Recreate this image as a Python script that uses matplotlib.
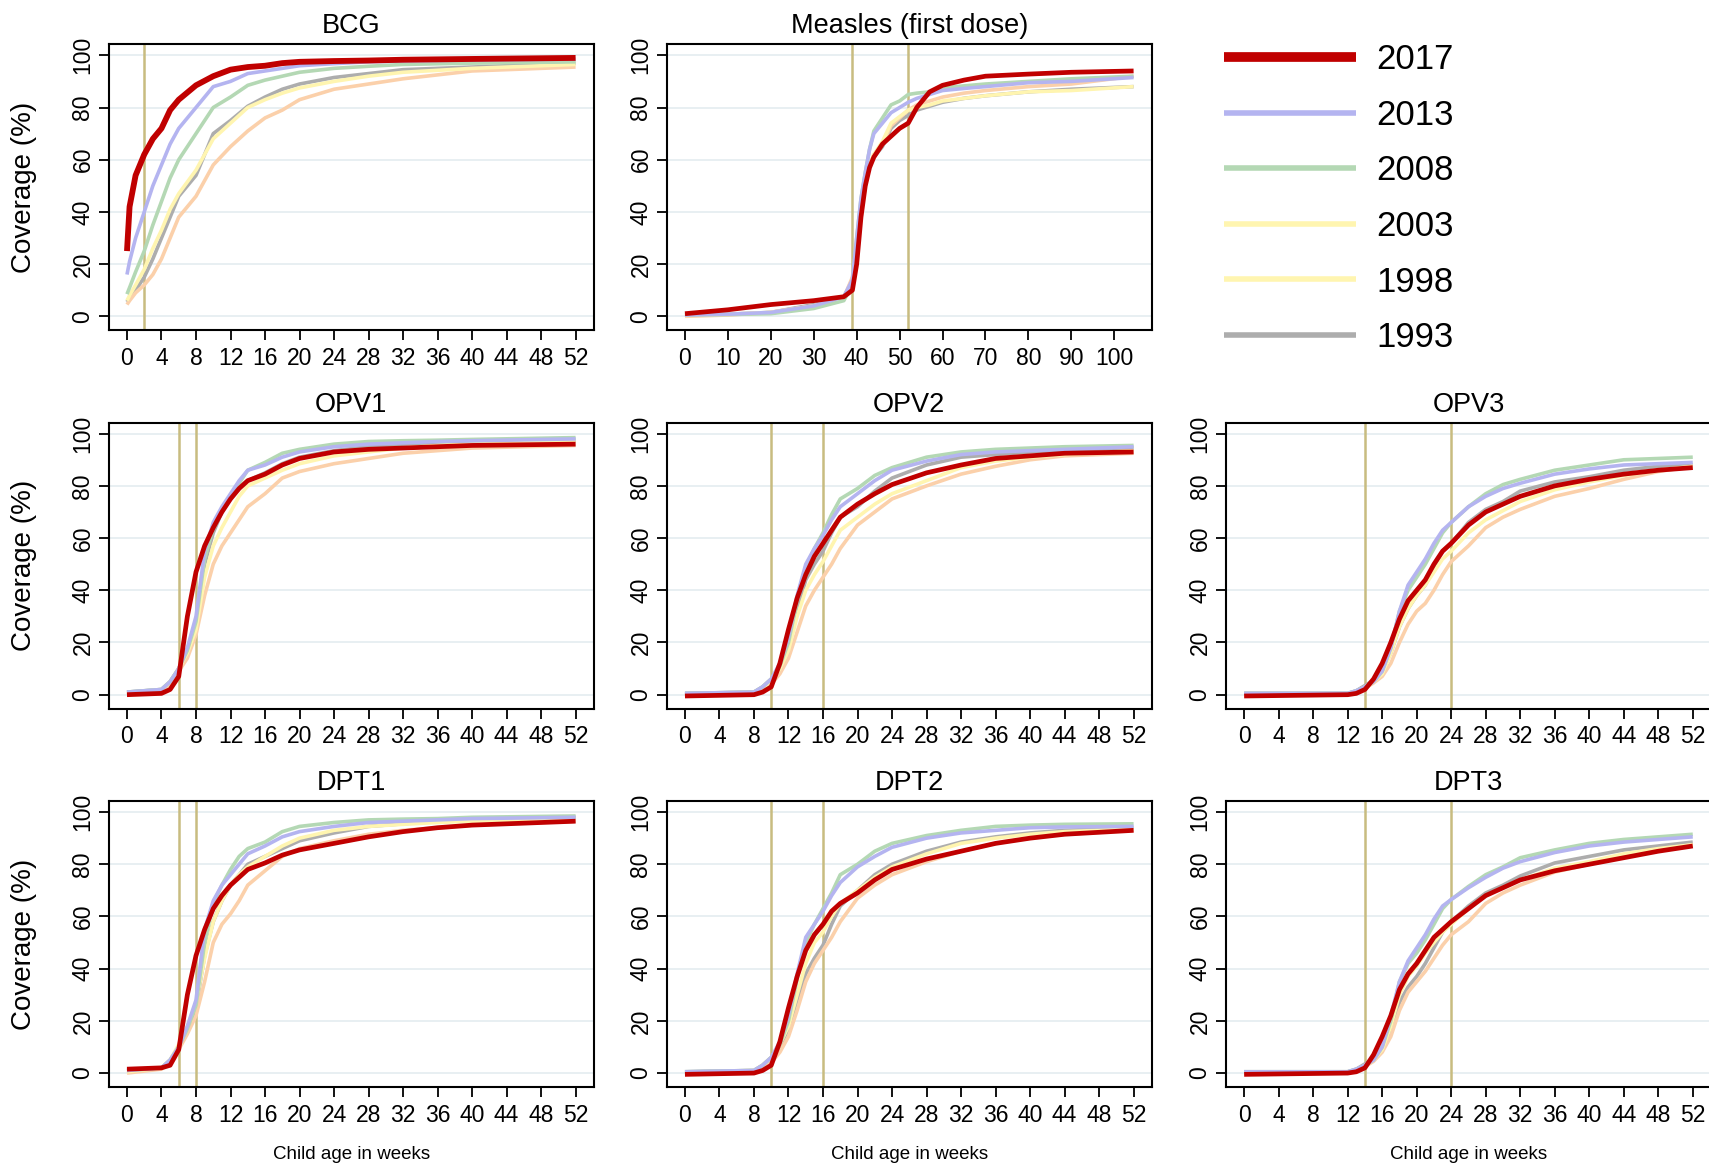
#!/usr/bin/env python3
"""Vaccination coverage by child age, survey rounds 1993-2017."""

import matplotlib
matplotlib.use('Agg')
import matplotlib.pyplot as plt
from matplotlib.lines import Line2D

plt.rcParams['font.family'] = ['Liberation Sans', 'DejaVu Sans']

YEARS = ['2017', '2013', '2008', '2003', '1998', '1993']
LINE_COLORS = {'2017': '#c00000', '2013': '#b4b4f0', '2008': '#b4d8b4',
               '2003': '#fff5b0', '1998': '#fbd0aa', '1993': '#adadad'}
LEGEND_COLORS = ['#c00000', '#b4b4f0', '#b4d8b4', '#fff5b0', '#fff5b0', '#adadad']

# ---- BCG ----
WEEKS_BCG = [0, 0.3, 1, 2, 3, 4, 5, 6, 8, 10, 12, 14, 16, 18, 20, 24, 28, 32, 40, 52]
BCG = {
    '2017': [25, 42, 54, 62, 68, 72, 79, 83, 88.5, 92, 94.5, 95.5, 96, 97, 97.5, 97.8, 98, 98.3, 98.6, 99],
    '2013': [16, 21, 30, 40, 50, 58, 66, 72, 80, 88, 90, 93, 94, 95, 96, 96.8, 97.5, 97.8, 98.2, 98.5],
    '2008': [8.5, 11, 17, 25, 35, 44, 53, 60, 70, 80, 84, 88.5, 90.5, 92, 93.5, 95, 95.8, 96.5, 97, 97.5],
    '2003': [6, 8, 12, 18, 26, 33, 41, 47, 56, 68, 74, 80, 83, 85.5, 87.5, 90, 92, 93.5, 95, 96.5],
    '1998': [4.5, 6, 9, 12, 16, 22, 30, 38, 46, 58, 65, 71, 76, 79, 83, 87, 89, 91, 94, 95.5],
    '1993': [5.5, 7, 10, 15, 22, 30, 38, 46, 54, 70, 75, 80.5, 84, 87, 89, 91.5, 93, 94.5, 95.5, 97],
}

# ---- Measles (first dose) ----
WEEKS_MEASLES = [0, 10, 20, 30, 37, 39, 40, 41, 42, 43, 44, 46, 48, 50, 52, 54, 57, 60, 65, 70, 80, 90, 104.5]
MEASLES = {
    '2017': [1, 2.5, 4.5, 6, 7.5, 10, 20, 38, 50, 57, 61, 66, 69, 72, 74, 80, 86, 88.5, 90.5, 92, 92.8, 93.5, 94],
    '2013': [0.5, 0.8, 1.5, 4, 7.5, 14, 30, 45, 55, 64, 70, 74, 78, 80, 82, 83.5, 85, 86.5, 87.3, 88, 89.5, 90, 91.5],
    '2008': [0.5, 0.7, 1, 3, 6, 12, 30, 45, 55, 64, 71, 76, 81, 82.5, 85, 85.5, 86, 87.5, 88.3, 89, 90, 91, 92],
    '2003': [0.3, 0.7, 1.5, 4, 7, 12, 25, 38, 50, 58, 62, 67, 74, 76.5, 79, 80, 81, 82.5, 83.5, 84.5, 86, 86.5, 88],
    '1998': [0, 0.5, 1.5, 4, 7, 15, 28, 40, 50, 58, 62, 66, 73, 76, 79, 81, 82.5, 84, 85.5, 86.5, 88, 89, 92],
    '1993': [0.5, 0.8, 1.5, 4.5, 7.5, 14, 27, 40, 50, 58, 61, 65, 72, 75, 77, 79, 80.5, 82, 83.5, 84.5, 86, 87, 88],
}

# ---- first doses (OPV1, DPT1) ----
WEEKS_DOSE1 = [0, 4, 5, 6, 7, 8, 9, 10, 11, 12, 13, 14, 16, 18, 20, 24, 28, 32, 36, 40, 52]
OPV1 = {
    '2017': [0, 0.5, 2, 7, 30, 47, 57, 64, 70, 75, 79, 82, 84.5, 88, 90.5, 93, 94, 94.5, 95, 95.5, 96],
    '2013': [1, 2, 5, 10, 18, 30, 55, 66, 72, 77, 82, 86, 88, 91, 93, 95, 96, 96.5, 97, 97.3, 98],
    '2008': [1, 2, 5, 10, 17, 28, 52, 64, 71, 76, 81, 86, 89, 92.5, 94, 96, 97, 97.3, 97.5, 97.8, 98.5],
    '2003': [0.5, 2, 5, 10, 16, 25, 45, 57, 64, 70, 76, 80, 83, 86, 88.5, 91.5, 93, 94.5, 95.5, 96, 97],
    '1998': [0, 1.5, 4, 9, 14, 23, 38, 50, 57, 62, 67, 72, 77, 83, 85.5, 88.5, 90.5, 92.5, 93.5, 94.5, 95.5],
    '1993': [1, 2, 5, 10, 16, 27, 50, 62, 70, 75, 79, 82, 85, 88.5, 91, 93.5, 95, 96, 96.5, 97, 97.5],
}
DPT1 = {
    '2017': [1.5, 2, 3, 9, 30, 45, 55, 63, 68, 72, 75, 78, 80.5, 83.5, 85.5, 88, 90.5, 92.5, 94, 95, 96.5],
    '2013': [1, 2, 5, 10, 18, 28, 55, 66, 72, 76, 80, 84, 87, 90.5, 92.5, 94.5, 96, 96.5, 97, 97.5, 98],
    '2008': [1, 2, 5, 10, 17, 26, 50, 65, 72, 78, 83, 86, 88.5, 92.5, 94.5, 96, 97, 97.3, 97.5, 98, 98.5],
    '2003': [0.5, 2, 5, 11, 18, 27, 44, 58, 66, 72, 76, 79, 83, 87, 90, 93, 94.5, 95.3, 96, 96.5, 97.5],
    '1998': [0, 1.5, 4, 9, 15, 22, 35, 50, 57, 61, 66, 72, 77.5, 83, 86, 89, 91.5, 93, 94, 95, 96.5],
    '1993': [1, 2, 5, 10, 16, 25, 45, 58, 66, 72, 76, 80, 83, 86, 89, 92, 94.5, 95.5, 96.5, 97, 98],
}

# ---- second doses (OPV2, DPT2) ----
WEEKS_DOSE2 = [0, 8, 9, 10, 11, 12, 13, 14, 15, 16, 17, 18, 20, 22, 24, 28, 32, 36, 40, 44, 52]
OPV2 = {
    '2017': [-0.5, 0, 1, 3, 12, 25, 37, 46, 53, 58, 63, 68, 73, 77, 80.5, 85, 88, 90.5, 91.5, 92.5, 93],
    '2013': [0.5, 1, 3, 6, 12, 22, 38, 50, 56, 61, 67, 72, 77, 82, 86, 89.5, 92, 93, 93.5, 94, 95],
    '2008': [0.5, 1, 3, 6, 11, 20, 36, 49, 56, 62, 69, 75, 79, 84, 87, 91, 93, 94, 94.5, 95, 95.5],
    '2003': [0.3, 1, 2.5, 5, 10, 17, 30, 40, 46, 51, 57, 63, 68, 73, 77, 82, 87, 89.5, 91, 92, 93.5],
    '1998': [0, 0.5, 2, 4, 8, 14, 24, 34, 40, 45, 50, 56, 65, 70, 75, 80, 84.5, 87.5, 90, 91.5, 92.5],
    '1993': [0.5, 1, 3, 6, 10, 18, 32, 44, 50, 55, 62, 68, 72, 78, 83, 88, 91, 92, 93, 93.5, 94.5],
}
DPT2 = {
    '2017': [-0.5, 0, 1, 3, 12, 25, 37, 47, 53, 57, 62, 65, 69, 74, 78, 82, 85, 88, 90, 91.5, 93],
    '2013': [0.5, 1, 3, 6, 12, 22, 38, 52, 57, 62, 68, 73, 79, 83, 86.5, 90, 92, 93, 94, 94.3, 94.5],
    '2008': [0.5, 1, 3, 6, 11, 20, 36, 50, 57, 63, 69, 76, 80, 85, 88, 91, 93, 94.5, 95, 95.3, 95.5],
    '2003': [0.3, 1, 3, 6, 11, 18, 30, 42, 50, 54, 60, 65, 70, 75, 79, 84, 88, 90, 91.5, 92.5, 93.5],
    '1998': [0, 0.5, 2, 4, 8, 14, 24, 35, 42, 47, 52, 58, 67, 72, 76, 81, 85, 88, 90, 91.5, 93],
    '1993': [0.5, 1, 3, 6, 10, 17, 28, 38, 44, 49, 57, 64, 70, 76, 80, 85, 88.5, 90.5, 92, 93, 94],
}

# ---- third doses (OPV3, DPT3) ----
WEEKS_DOSE3 = [0, 12, 13, 14, 15, 16, 17, 18, 19, 20, 21, 22, 23, 24, 26, 28, 30, 32, 36, 40, 44, 48, 52]
OPV3 = {
    '2017': [-0.5, 0, 0.5, 2, 6, 12, 20, 29, 36, 40, 44, 50, 55, 58, 65, 70, 73, 76, 80, 82.5, 84.5, 86, 87],
    '2013': [0.5, 0.5, 1.5, 3, 5, 9, 18, 32, 42, 47, 52, 58, 63, 66, 72, 76, 79, 81, 84.5, 86.5, 88, 88.5, 89],
    '2008': [0.5, 0.5, 1.5, 3, 5, 9, 18, 32, 40, 45, 50, 56, 62, 66, 72, 77, 80.5, 82.5, 86, 88, 90, 90.5, 91],
    '2003': [0.3, 0.3, 1, 3, 5, 8, 16, 26, 33, 38, 42, 47, 52, 55, 62, 67, 70.5, 74, 78.5, 81.5, 84, 86, 87.5],
    '1998': [0, 0, 1, 2.5, 4.5, 7, 12, 20, 27, 32, 35, 40, 46, 51, 57, 64, 68, 71, 76, 79, 82.5, 85.5, 87.5],
    '1993': [0.5, 0.5, 1.5, 3.5, 5.5, 9, 16, 26, 33, 38, 42, 49, 55, 58, 66, 71, 74, 78, 81.5, 83.5, 86, 87.5, 88],
}
DPT3 = {
    '2017': [-0.5, 0, 0.5, 2, 7, 14, 22, 32, 38, 42, 47, 52, 55, 58, 63, 68, 71, 74, 77.5, 80, 82.5, 85, 87],
    '2013': [0.5, 0.5, 1.5, 3, 5, 10, 22, 35, 43, 48, 53, 59, 64, 66.5, 71, 75, 78.5, 81, 84.5, 87, 88.5, 89.5, 90.5],
    '2008': [0.5, 0.5, 1.5, 3, 5, 10, 20, 35, 42, 46, 51, 57, 63, 66.5, 71.5, 76, 79, 82.5, 85.5, 88, 89.5, 90.5, 91.5],
    '2003': [0.3, 0.3, 1, 3, 5, 9, 18, 30, 37, 41, 46, 50, 54, 57, 63, 68, 71, 74, 78.5, 81, 84, 86, 87.5],
    '1998': [0, 0, 1, 2.5, 4.5, 8, 14, 24, 31, 35, 39, 44, 49, 53, 58, 65, 69, 72, 77, 80, 83, 85.5, 87.5],
    '1993': [0.5, 0.5, 1.5, 3.5, 5.5, 9, 17, 27, 33, 37, 42, 48, 54, 58, 64, 69, 72, 75.5, 80.5, 83, 85.5, 87, 88.5],
}

# recommended age windows (weeks)
SCHEDULE = {'BCG': [2], 'Measles (first dose)': [39, 52],
            'OPV1': [6, 8], 'OPV2': [10, 16], 'OPV3': [14, 24],
            'DPT1': [6, 8], 'DPT2': [10, 16], 'DPT3': [14, 24]}

TICKS_52 = list(range(0, 53, 4))
TICKS_104 = list(range(0, 101, 10))

# (row, col, title, weeks, data)
PANELS = [
    (0, 0, 'BCG', WEEKS_BCG, BCG),
    (0, 1, 'Measles (first dose)', WEEKS_MEASLES, MEASLES),
    (1, 0, 'OPV1', WEEKS_DOSE1, OPV1),
    (1, 1, 'OPV2', WEEKS_DOSE2, OPV2),
    (1, 2, 'OPV3', WEEKS_DOSE3, OPV3),
    (2, 0, 'DPT1', WEEKS_DOSE1, DPT1),
    (2, 1, 'DPT2', WEEKS_DOSE2, DPT2),
    (2, 2, 'DPT3', WEEKS_DOSE3, DPT3),
]

COL_LEFT = [0.0638, 0.3903, 0.7175]
COL_WIDTH = 0.2835
ROW_BOTTOM = [0.7176, 0.3942, 0.0708]
ROW_HEIGHT = 0.2445


def draw_panel(fig, row, col, title, weeks, data):
    ax = fig.add_axes([COL_LEFT[col], ROW_BOTTOM[row], COL_WIDTH, ROW_HEIGHT])
    measles = title.startswith('Measles')
    ticks = TICKS_104 if measles else TICKS_52
    xmax = 104.5 if measles else 52

    for y in range(0, 101, 20):
        ax.axhline(y, color='#e4ecf0', lw=1.2, zorder=0)
    for w in SCHEDULE[title]:
        ax.axvline(w, color='#c8bc80', lw=1.8, zorder=1)

    for year in reversed(YEARS):
        if year == '2017':
            lw = 4.2 if title == 'BCG' else 3.4
        else:
            lw = 2.6
        ax.plot(weeks, data[year], color=LINE_COLORS[year], lw=lw,
                solid_capstyle='butt', zorder=3 if year == '2017' else 2)

    ax.set_xlim(-0.04 * xmax, 1.04 * xmax)
    ax.set_ylim(-5.4, 104.2)
    ax.set_xticks(ticks)
    ax.set_yticks(range(0, 101, 20))
    ax.tick_params(axis='both', direction='out', length=7, width=1.3, labelsize=16.5)
    ax.tick_params(axis='x', pad=5)
    for lab in ax.get_yticklabels():
        lab.set_rotation(90)
        lab.set_va('center')
    for sp in ax.spines.values():
        sp.set_linewidth(1.5)
    ax.set_title(title, fontsize=19.5, pad=8)

    if col == 0:
        fig.text(0.014, ROW_BOTTOM[row] + ROW_HEIGHT / 2, 'Coverage (%)',
                 rotation=90, ha='center', va='center', fontsize=20)
    if row == 2:
        fig.text(COL_LEFT[col] + COL_WIDTH / 2, 0.013, 'Child age in weeks',
                 ha='center', va='center', fontsize=13.5)
    return ax


def main():
    fig = plt.figure(figsize=(17.09, 11.70), dpi=100)
    for row, col, title, weeks, data in PANELS:
        draw_panel(fig, row, col, title, weeks, data)

    handles = [Line2D([0], [0], color=c, lw=7 if y == '2017' else 4, solid_capstyle='butt')
               for y, c in zip(YEARS, LEGEND_COLORS)]
    fig.legend(handles, YEARS, loc='upper left', bbox_to_anchor=(0.716, 0.963),
               frameon=False, fontsize=25, handlelength=3.8, handletextpad=0.6,
               labelspacing=0.65, borderpad=0, borderaxespad=0)

    fig.savefig('out.png', dpi=100, facecolor='white')
    plt.close(fig)


if __name__ == '__main__':
    main()
